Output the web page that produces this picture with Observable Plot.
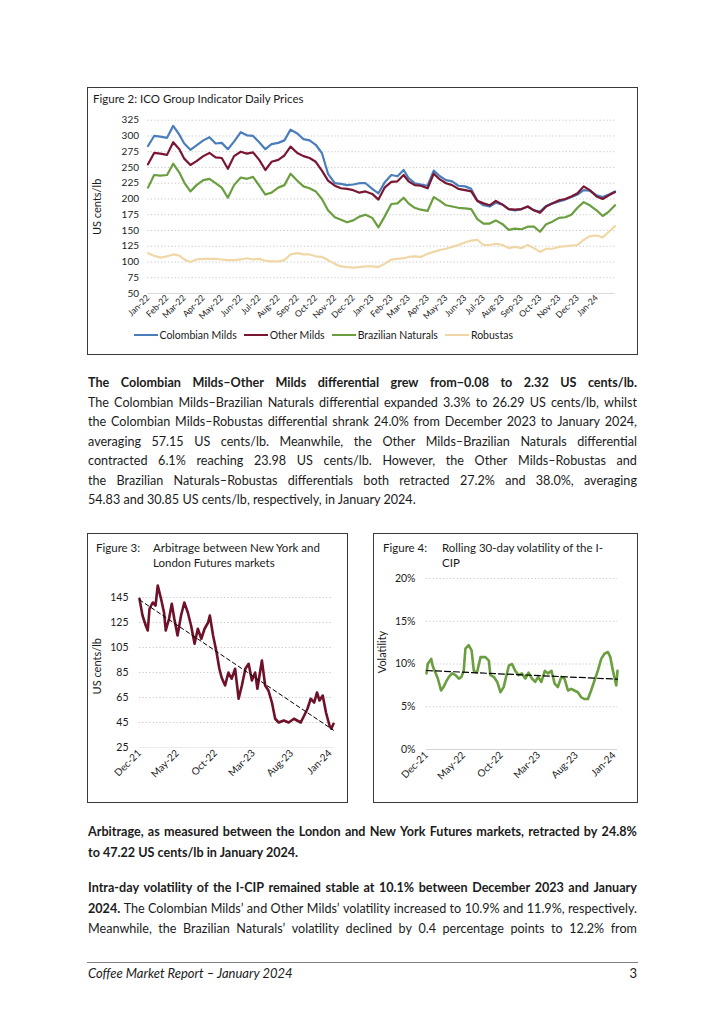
<!DOCTYPE html>
<html>
<head>
<meta charset="utf-8">
<script src="https://cdn.jsdelivr.net/npm/d3@7"></script>
<script src="https://cdn.jsdelivr.net/npm/@observablehq/plot@0.6"></script>
<style>
  html, body { margin: 0; padding: 0; background: #fff; }
  body { width: 724px; height: 1024px; position: relative; overflow: hidden; font-family: Lato, "Noto Sans", sans-serif; color: #1b1b1b; }
  .box { position: absolute; border: 1px solid #3a3a3a; box-sizing: border-box; }
  .chart { position: absolute; }
  .tl { position: absolute; left: 88px; width: 549px; font-size: 12.6px; line-height: 16px; height: 16px; white-space: nowrap; }
  .tl.just { display: flex; justify-content: space-between; }
  .ct { position: absolute; font-size: 11.5px; line-height: 14px; white-space: nowrap; color: #1b1b1b; }
  .legend { position: absolute; display: flex; gap: 7px; font-size: 10.5px; line-height: 12px; white-space: nowrap; }
  .legend span { display: flex; align-items: center; }
  .legend i { display: inline-block; width: 24px; height: 2.5px; margin-right: 2px; }
  .rule { position: absolute; height: 1px; background: #7f7f7f; }
</style>
</head>
<body>
<script>
// ---------------- Figure 2 data: ICO group indicator prices (US cents/lb), sampled on the 1st, 11th, 21st of each month ----------------
const seriesNames = ["Colombian Milds", "Other Milds", "Brazilian Naturals", "Robustas"];
const seriesColors = ["#4a7ebb", "#7a1632", "#6a9e3f", "#f0d7a6"];
const sampleDays = [1, 11, 21];
const priceStart = "2022-01-01";
const priceEnd = "2024-01-31";
const colombianMilds = [
  284, 300, 299,  297, 316, 302,  288, 278, 285,  293, 298, 288,  289, 279, 291,  306, 301, 300,
  290, 279, 287,  289, 293, 310,  304, 295, 293,  286, 273, 240,  225, 224, 222,  223, 225, 225,
  216, 209, 226,  238, 236, 246,  233, 225, 223,  221, 245, 236,  230, 228, 221,  220, 216, 197,
  190, 188, 194,  191, 184, 182,  184, 188, 182,  180, 189, 193,  196, 199, 203,  207, 214, 213,
  206, 203, 207,  212];
const otherMilds = [
  255, 273, 272,  270, 290, 279,  264, 254, 260,  268, 273, 266,  265, 248, 268,  275, 272, 274,
  262, 246, 259,  262, 269, 283,  273, 268, 265,  259, 245, 229,  221, 217, 216,  214, 210, 212,
  208, 199, 218,  227, 228, 238,  228, 222, 221,  217, 240, 231,  225, 222, 216,  214, 212, 197,
  193, 190, 197,  191, 184, 183,  184, 188, 182,  178, 188, 193,  198, 200, 204,  209, 220, 214,
  204, 200, 206,  211];
const brazilianNaturals = [
  218, 238, 237,  238, 256, 242,  226, 212, 222,  230, 232, 225,  218, 202, 222,  234, 232, 235,
  221, 207, 210,  218, 222, 240,  229, 220, 217,  212, 200, 182,  171, 167, 163,  166, 172, 175,
  170, 155, 172,  192, 193, 202,  193, 186, 183,  181, 203, 197,  190, 188, 186,  185, 184, 168,
  161, 161, 166,  160, 151, 153,  152, 156, 156,  148, 160, 164,  170, 171, 175,  186, 195, 190,
  182, 173, 180,  190];
const robustas = [
  114, 110, 107,  109, 112, 110,  104, 100, 104,  105, 105, 105,  104, 103, 103,  104, 106, 104,
  105, 102, 101,  101, 103, 112,  114, 112, 112,  109, 108, 103,   97,  93,  92,   91,  92,  93,
   93,  92,  97,  104, 105, 106,  108, 109, 108,  113, 116, 119,  121, 124, 127,  131, 134, 135,
  127, 127, 129,  127, 122, 124,  122, 127, 122,  116, 121, 121,  124, 125, 126,  127, 135, 141,
  142, 139, 148,  157];
const priceYTicks = [50, 75, 100, 125, 150, 175, 200, 225, 250, 275, 300, 325];

// ---------------- Figure 3 data: arbitrage New York vs London (US cents/lb) ----------------
const arbDates = ["2021-12-01","2021-12-13","2021-12-26","2022-01-03","2022-01-10","2022-01-23","2022-02-03","2022-02-12","2022-02-25","2022-03-09","2022-03-16","2022-03-29","2022-04-09","2022-04-19","2022-05-02","2022-05-16","2022-05-29","2022-06-12","2022-06-25","2022-07-09","2022-07-22","2022-08-05","2022-08-18","2022-09-01","2022-09-08","2022-09-21","2022-10-05","2022-10-16","2022-10-25","2022-11-08","2022-11-21","2022-12-04","2022-12-18","2023-01-01","2023-01-14","2023-01-28","2023-02-10","2023-02-23","2023-03-08","2023-03-17","2023-04-04","2023-04-17","2023-04-30","2023-05-14","2023-05-27","2023-06-10","2023-06-30","2023-07-20","2023-08-10","2023-09-06","2023-09-20","2023-10-03","2023-10-16","2023-10-30","2023-11-10","2023-11-20","2023-12-03","2023-12-16","2023-12-30","2024-01-06","2024-01-15"];
const arbValues = [144,130.6,122.6,118.6,136,141,138.6,154.6,144,133,118.6,128,140,128,114.6,130.6,141,133,122.6,108,120,112,120,125,130.6,114.6,101,88,81,74.6,85,80,88,64,74.6,88,92,78.6,85,72,94.6,74.6,70.6,61,48,45,46.6,45,48,45,50.6,56,64,61,69,62.6,66.6,53,42.6,40,44];
const arbYTicks = [25, 45, 65, 85, 105, 125, 145];
const arbYMax = 155;

// ---------------- Figure 4 data: rolling 30-day volatility of the I-CIP (%) ----------------
const volDates = ["2021-12-01","2021-12-06","2021-12-20","2021-12-26","2022-01-03","2022-01-16","2022-01-29","2022-02-08","2022-02-18","2022-03-02","2022-03-15","2022-03-29","2022-04-11","2022-04-22","2022-05-01","2022-05-08","2022-05-21","2022-06-02","2022-06-11","2022-06-24","2022-07-08","2022-07-28","2022-08-11","2022-08-17","2022-08-31","2022-09-14","2022-09-27","2022-10-10","2022-10-20","2022-10-31","2022-11-13","2022-11-26","2022-12-10","2022-12-23","2023-01-06","2023-01-19","2023-02-02","2023-02-15","2023-02-27","2023-03-12","2023-03-26","2023-04-08","2023-04-22","2023-05-05","2023-05-18","2023-06-01","2023-06-14","2023-06-28","2023-07-11","2023-07-24","2023-08-07","2023-08-21","2023-09-04","2023-09-17","2023-09-30","2023-10-14","2023-10-27","2023-11-10","2023-11-23","2023-12-07","2023-12-17","2023-12-26","2024-01-10","2024-01-15"];
const volValues = [8.9,10.0,10.6,9.8,9.2,8.3,6.9,7.3,7.9,8.5,8.9,8.7,8.3,8.5,9.2,11.8,12.2,11.6,9.2,9.0,10.8,10.8,10.4,8.7,8.5,7.9,6.7,7.3,8.5,9.8,10.0,9.2,8.7,8.9,8.3,9.0,8.3,7.9,8.5,7.9,9.2,8.9,9.2,7.7,7.3,8.5,8.3,6.9,7.1,6.9,6.7,6.1,5.9,5.9,6.9,8.1,9.2,10.6,11.2,11.4,10.8,9.4,7.5,9.2];
const volYTicks = [0, 5, 10, 15, 20];

// shared x ticks of figures 3 and 4
const smallXTicks = ["2021-12-01","2022-05-01","2022-10-01","2023-03-01","2023-08-01","2024-01-01"];
const smallXDomain = ["2021-12-01", "2024-01-15"];

// ---------------- page text ----------------
const para1 = [
  [["The Colombian Milds–Other Milds differential grew from−0.08 to 2.32 US cents/lb.", true]],
  [["The Colombian Milds–Brazilian Naturals differential expanded 3.3% to 26.29 US cents/lb, whilst", false]],
  [["the Colombian Milds–Robustas differential shrank 24.0% from December 2023 to January 2024,", false]],
  [["averaging 57.15 US cents/lb. Meanwhile, the Other Milds–Brazilian Naturals differential", false]],
  [["contracted 6.1% reaching 23.98 US cents/lb. However, the Other Milds–Robustas and", false]],
  [["the Brazilian Naturals–Robustas differentials both retracted 27.2% and 38.0%, averaging", false]],
  [["54.83 and 30.85 US cents/lb, respectively, in January 2024.", false]]
];
const para2 = [
  [["Arbitrage, as measured between the London and New York Futures markets, retracted by 24.8%", true]],
  [["to 47.22 US cents/lb in January 2024.", true]]
];
const para3 = [
  [["Intra-day volatility of the I-CIP remained stable at 10.1% between December 2023 and January", true]],
  [["2024.", true], ["The Colombian Milds’ and Other Milds’ volatility increased to 10.9% and 11.9%, respectively.", false]],
  [["Meanwhile, the Brazilian Naturals’ volatility declined by 0.4 percentage points to 12.2% from", false]]
];

// ---------------- helpers ----------------
const body = document.body;
function el(tag, cls, style, text) {
  const e = document.createElement(tag);
  if (cls) e.className = cls;
  if (style) Object.assign(e.style, style);
  if (text != null) e.textContent = text;
  body.appendChild(e);
  return e;
}
function paragraph(lines, firstCenter, step) {
  lines.forEach((segs, i) => {
    const last = i === lines.length - 1;
    const justify = !last || lines === para3;
    const div = el("div", "tl" + (justify ? " just" : ""), {top: (firstCenter + i * step - 8) + "px"});
    for (const [str, bold] of segs) {
      if (justify) {
        for (const w of str.split(" ").filter(Boolean)) {
          const s = document.createElement("span");
          s.textContent = w;
          if (bold) s.style.fontWeight = "700";
          div.appendChild(s);
        }
      } else {
        const s = document.createElement("span");
        s.textContent = str + " ";
        if (bold) s.style.fontWeight = "700";
        div.appendChild(s);
      }
    }
  });
}
const baseStyle = {background: "transparent", fontFamily: "Lato, 'Noto Sans', sans-serif", color: "#1b1b1b", overflow: "visible"};
const gridStyle = {stroke: "#c8c8c8", strokeOpacity: 1, strokeWidth: 1, strokeDasharray: "1.2,2.2"};
const fmtMonth = d3.utcFormat("%b-%y");

// ---------------- Figure 2 ----------------
el("div", "box", {left: "87px", top: "87px", width: "551px", height: "268px"});
const priceDates = [];
for (const m of d3.utcMonth.range(new Date(priceStart), new Date("2024-02-01"))) {
  for (const d of sampleDays) priceDates.push(new Date(Date.UTC(m.getUTCFullYear(), m.getUTCMonth(), d)));
}
priceDates.push(new Date(priceEnd));
const priceSeries = [colombianMilds, otherMilds, brazilianNaturals, robustas];
const priceRows = seriesNames.flatMap((name, si) => priceDates.map((date, i) => ({series: name, date, value: priceSeries[si][i]})));
const priceMonthTicks = d3.utcMonth.range(new Date(priceStart), new Date("2024-01-02"));

const fig2 = Plot.plot({
  width: 550, height: 267,
  marginLeft: 60.5, marginRight: 22.5, marginTop: 32.7, marginBottom: 61,
  x: {type: "utc", domain: [new Date(priceStart), new Date(priceEnd)]},
  y: {domain: [50, 325]},
  color: {domain: seriesNames, range: seriesColors},
  style: {...baseStyle, fontSize: "10px"},
  marks: [
    Plot.gridY(priceYTicks.filter(d => d > 50), gridStyle),
    Plot.ruleY([50], {stroke: "#d9d9d9"}),
    Plot.axisY(priceYTicks, {tickSize: 0, tickPadding: 9, label: null, fontSize: 10}),
    Plot.axisX(priceMonthTicks, {tickSize: 0, tickPadding: 3, tickRotate: -45, tickFormat: fmtMonth, label: null, fontSize: 8.7}),
    Plot.line(priceRows, {x: "date", y: "value", z: "series", stroke: "series", strokeWidth: 2.2}),
    Plot.text(["US cents/lb"], {frameAnchor: "left", rotate: -90, dx: -50.5, textAnchor: "middle", fontSize: 11})
  ]
});
fig2.classList.add("chart");
Object.assign(fig2.style, {left: "87px", top: "87px"});
body.appendChild(fig2);
el("div", "ct", {left: "93px", top: "92px", fontSize: "11.5px"}, "Figure 2: ICO Group Indicator Daily Prices");
const legend = el("div", "legend", {left: "133.5px", top: "329px"});
seriesNames.forEach((name, i) => {
  const s = document.createElement("span");
  const sw = document.createElement("i");
  sw.style.background = seriesColors[i];
  s.appendChild(sw);
  s.appendChild(document.createTextNode(name));
  legend.appendChild(s);
});

// ---------------- paragraph 1 ----------------
paragraph(para1, 383, 19.5);

// ---------------- Figure 3 ----------------
el("div", "box", {left: "87px", top: "533px", width: "261px", height: "270px"});
const arbRows = arbDates.map((d, i) => ({date: new Date(d), value: arbValues[i]}));
const fig3 = Plot.plot({
  width: 260, height: 269,
  marginLeft: 52, marginRight: 14, marginTop: 51.5, marginBottom: 55,
  x: {type: "utc", domain: smallXDomain.map(d => new Date(d))},
  y: {domain: [arbYTicks[0], arbYMax]},
  style: {...baseStyle, fontSize: "10.5px"},
  marks: [
    Plot.gridY(arbYTicks.filter(d => d > 25), gridStyle),
    Plot.ruleY([25], {stroke: "#ececec"}),
    Plot.axisY(arbYTicks, {tickSize: 0, tickPadding: 11, label: null, fontSize: 10.5}),
    Plot.axisX(smallXTicks.map(d => new Date(d)), {tickSize: 0, tickPadding: 4, tickRotate: -45, tickFormat: fmtMonth, label: null, fontSize: 10}),
    Plot.line(arbRows, {x: "date", y: "value", stroke: "#6e1129", strokeWidth: 2.6}),
    Plot.linearRegressionY(arbRows, {x: "date", y: "value", stroke: "#000", strokeWidth: 1, strokeDasharray: "4,3", ci: 0}),
    Plot.text(["US cents/lb"], {frameAnchor: "left", rotate: -90, dx: -42, textAnchor: "middle", fontSize: 11})
  ]
});
fig3.classList.add("chart");
Object.assign(fig3.style, {left: "87px", top: "533px"});
body.appendChild(fig3);
el("div", "ct", {left: "96px", top: "541px"}, "Figure 3:");
el("div", "ct", {left: "153px", top: "541px"}, "Arbitrage between New York and");
el("div", "ct", {left: "153px", top: "556px"}, "London Futures markets");

// ---------------- Figure 4 ----------------
el("div", "box", {left: "373px", top: "533px", width: "265px", height: "270px"});
const volRows = volDates.map((d, i) => ({date: new Date(d), value: volValues[i]}));
const fig4 = Plot.plot({
  width: 264, height: 269,
  marginLeft: 53, marginRight: 20, marginTop: 45, marginBottom: 53,
  x: {type: "utc", domain: smallXDomain.map(d => new Date(d))},
  y: {domain: [volYTicks[0], volYTicks[volYTicks.length - 1]]},
  style: {...baseStyle, fontSize: "10.5px"},
  marks: [
    Plot.gridY(volYTicks.filter(d => d > 0), gridStyle),
    Plot.ruleY([0], {stroke: "#d4d4d4"}),
    Plot.axisY(volYTicks, {tickSize: 0, tickPadding: 11, label: null, fontSize: 10.5, tickFormat: d => d + "%"}),
    Plot.axisX(smallXTicks.map(d => new Date(d)), {tickSize: 0, tickPadding: 4, tickRotate: -45, tickFormat: fmtMonth, label: null, fontSize: 10}),
    Plot.line(volRows, {x: "date", y: "value", stroke: "#6a9e3f", strokeWidth: 2.6}),
    Plot.linearRegressionY(volRows, {x: "date", y: "value", stroke: "#000", strokeWidth: 1.2, strokeDasharray: "6,3", ci: 0}),
    Plot.text(["Volatility"], {frameAnchor: "left", rotate: -90, dx: -44, dy: -12, textAnchor: "middle", fontSize: 11})
  ]
});
fig4.classList.add("chart");
Object.assign(fig4.style, {left: "373px", top: "533px"});
body.appendChild(fig4);
el("div", "ct", {left: "383px", top: "541px"}, "Figure 4:");
el("div", "ct", {left: "442px", top: "541px"}, "Rolling 30-day volatility of the I-");
el("div", "ct", {left: "442px", top: "556px"}, "CIP");

// ---------------- paragraphs 2 and 3 ----------------
paragraph(para2, 832, 20.5);
paragraph(para3, 888, 20.5);

// ---------------- footer ----------------
el("div", "rule", {left: "87px", top: "962px", width: "551px"});
el("div", "ct", {left: "88px", top: "965px", fontSize: "13px", lineHeight: "16px", fontStyle: "italic"}, "Coffee Market Report – January 2024");
el("div", "ct", {left: "600px", top: "965px", width: "37px", textAlign: "right", fontSize: "13px", lineHeight: "16px"}, "3");
</script>
</body>
</html>
